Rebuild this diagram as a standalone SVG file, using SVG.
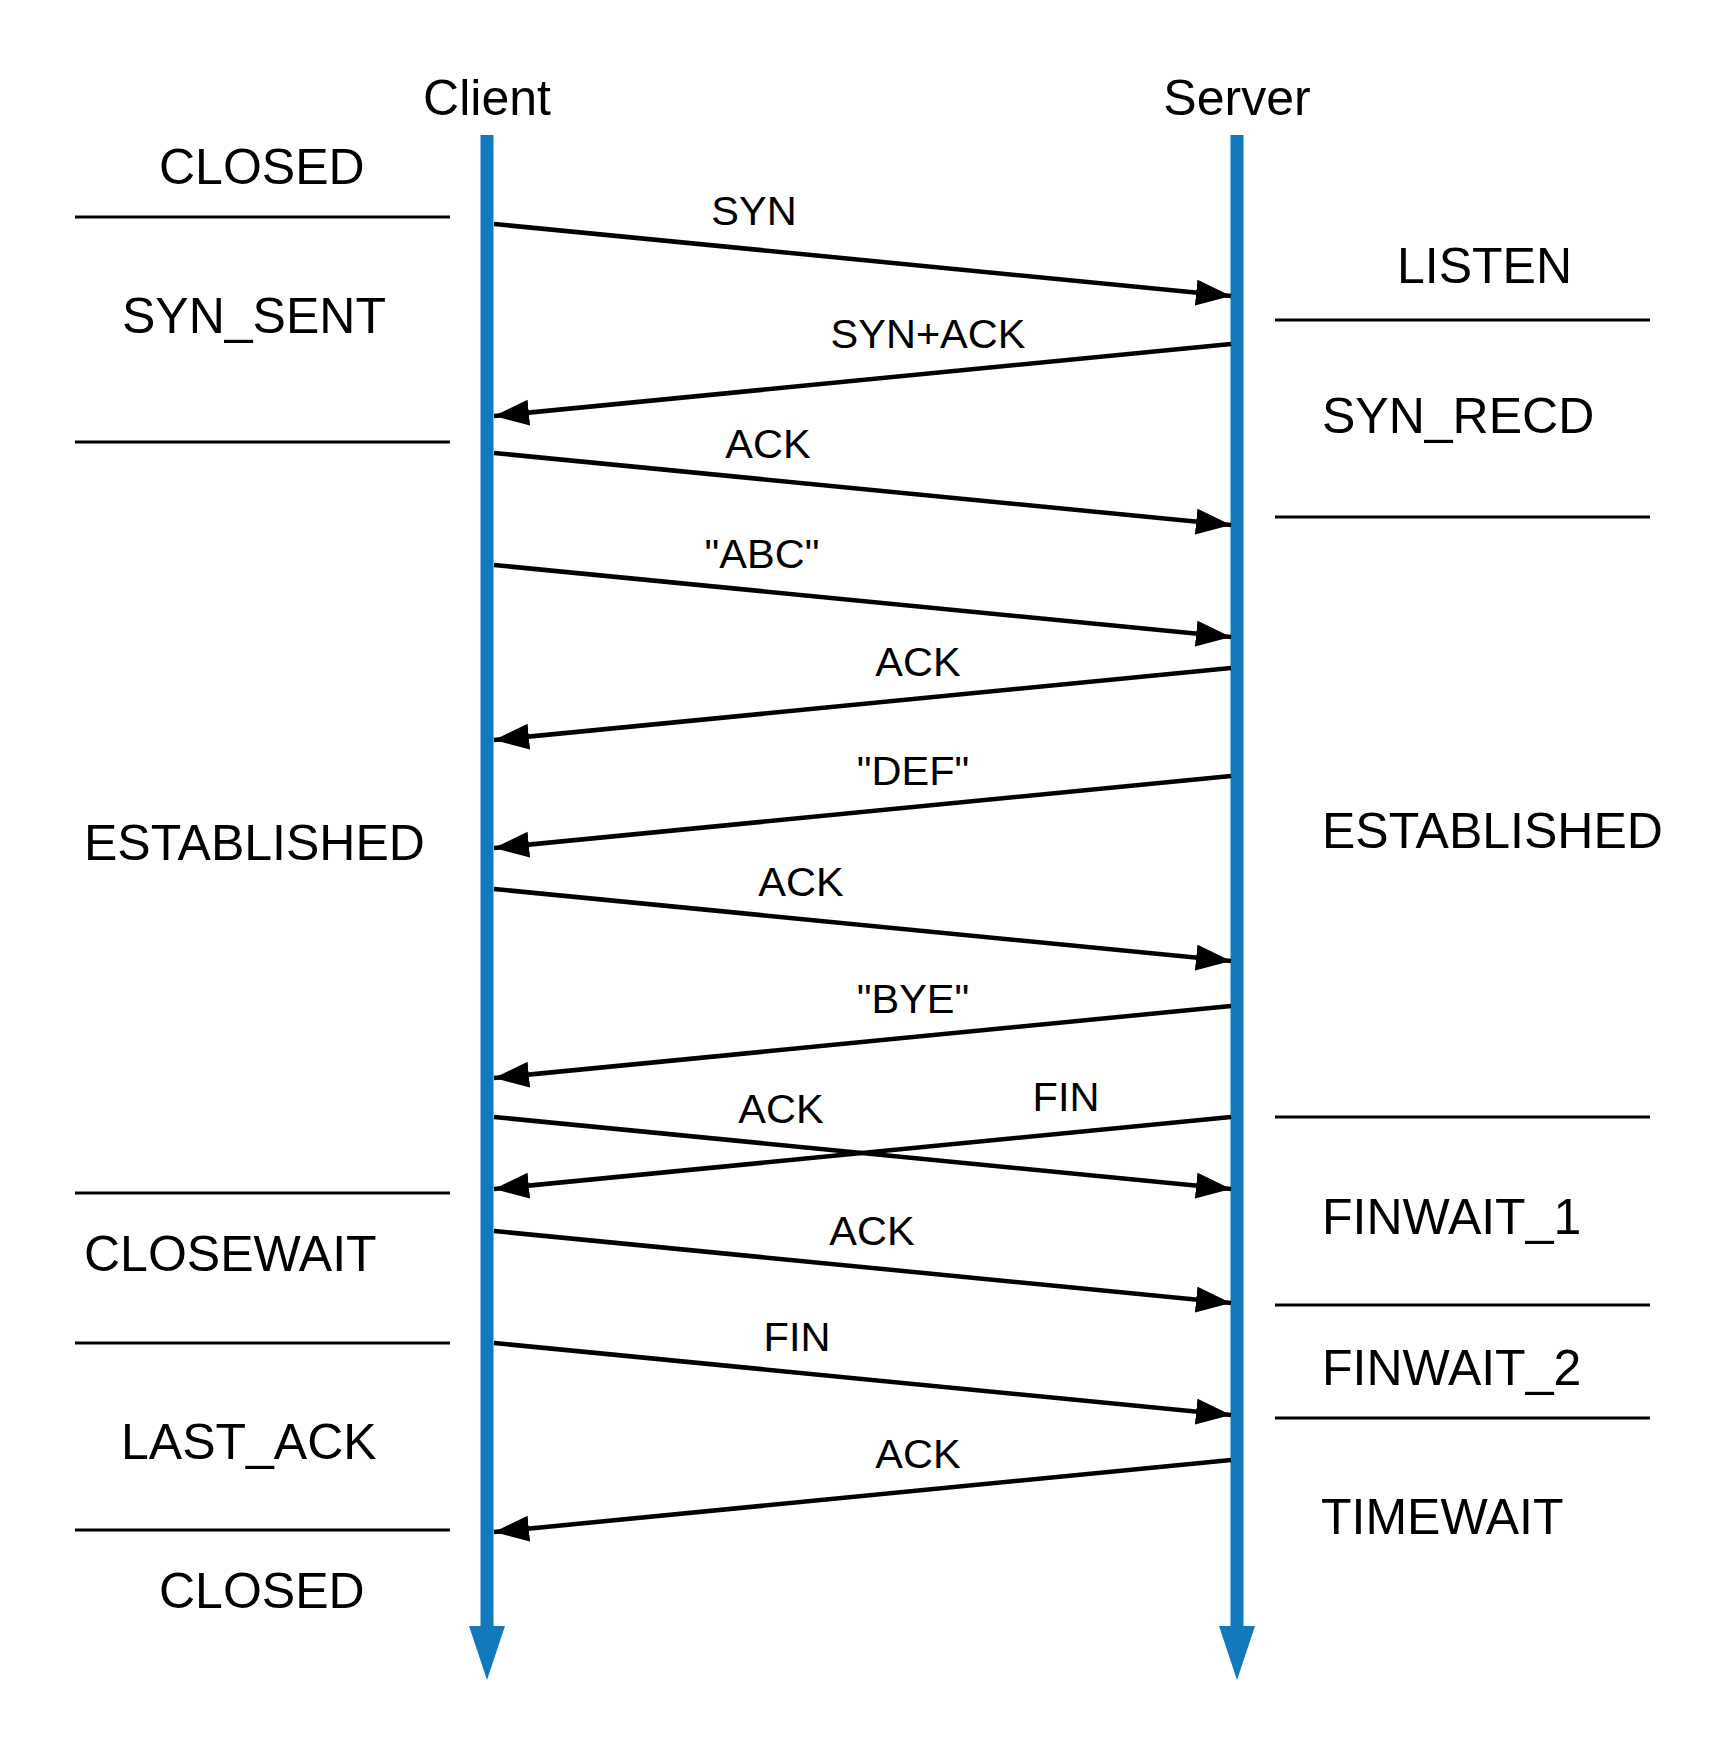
<svg xmlns="http://www.w3.org/2000/svg" width="1725" height="1755" viewBox="0 0 1725 1755">
<style>
text{font-family:"Liberation Sans",Arial,sans-serif;fill:#000}
.h{font-size:50px;text-anchor:middle}
.st{font-size:50px}
.lb{font-size:41.5px;text-anchor:middle}
.sep{stroke:#000;stroke-width:3}
.life{stroke:#117abd;stroke-width:13}
.msg{stroke:#000;stroke-width:4.5;fill:none;marker-end:url(#ah)}
</style>
<defs>
<marker id="ah" markerUnits="userSpaceOnUse" markerWidth="36" markerHeight="28" refX="35" refY="13" orient="auto"><path d="M0,0 L35,13 L0,26 z" fill="#000"/></marker>
</defs>
<rect width="1725" height="1755" fill="#fff"/>
<g id="client">
<text class="h" x="487" y="115">Client</text>
<line class="life" x1="487" y1="135" x2="487" y2="1627"/>
<polygon points="469,1626 505,1626 487,1680" fill="#117abd"/>
</g>
<g id="server">
<text class="h" x="1237" y="115">Server</text>
<line class="life" x1="1237" y1="135" x2="1237" y2="1627"/>
<polygon points="1219,1626 1255,1626 1237,1680" fill="#117abd"/>
</g>
<g id="client-states">
<text class="st" x="159" y="184">CLOSED</text>
<line class="sep" x1="75" y1="217" x2="450" y2="217"/>
<text class="st" x="122" y="333">SYN_SENT</text>
<line class="sep" x1="75" y1="442" x2="450" y2="442"/>
<text class="st" x="84" y="860">ESTABLISHED</text>
<line class="sep" x1="75" y1="1193" x2="450" y2="1193"/>
<text class="st" x="84" y="1271">CLOSEWAIT</text>
<line class="sep" x1="75" y1="1343" x2="450" y2="1343"/>
<text class="st" x="121" y="1459">LAST_ACK</text>
<line class="sep" x1="75" y1="1530" x2="450" y2="1530"/>
<text class="st" x="159" y="1608">CLOSED</text>
</g>
<g id="server-states">
<text class="st" x="1397" y="283">LISTEN</text>
<line class="sep" x1="1275" y1="320" x2="1650" y2="320"/>
<text class="st" x="1322" y="433">SYN_RECD</text>
<line class="sep" x1="1275" y1="517" x2="1650" y2="517"/>
<text class="st" x="1322" y="848">ESTABLISHED</text>
<line class="sep" x1="1275" y1="1117" x2="1650" y2="1117"/>
<text class="st" x="1322" y="1234">FINWAIT_1</text>
<line class="sep" x1="1275" y1="1305" x2="1650" y2="1305"/>
<text class="st" x="1322" y="1385">FINWAIT_2</text>
<line class="sep" x1="1275" y1="1418" x2="1650" y2="1418"/>
<text class="st" x="1321" y="1534">TIMEWAIT</text>
</g>
<g id="connectors">
<line class="msg" x1="494" y1="224" x2="1231" y2="296"/>
<line class="msg" x1="1231" y1="344" x2="494" y2="416"/>
<line class="msg" x1="494" y1="453" x2="1231" y2="525"/>
<line class="msg" x1="494" y1="565" x2="1231" y2="637"/>
<line class="msg" x1="1231" y1="668" x2="494" y2="740"/>
<line class="msg" x1="1231" y1="776" x2="494" y2="848"/>
<line class="msg" x1="494" y1="889" x2="1231" y2="961"/>
<line class="msg" x1="1231" y1="1006" x2="494" y2="1078"/>
<line class="msg" x1="494" y1="1117" x2="1231" y2="1189"/>
<line class="msg" x1="1231" y1="1117" x2="494" y2="1189"/>
<line class="msg" x1="494" y1="1231" x2="1231" y2="1303"/>
<line class="msg" x1="494" y1="1343" x2="1231" y2="1415"/>
<line class="msg" x1="1231" y1="1460" x2="494" y2="1532"/>
</g>
<g id="labels">
<text class="lb" x="754" y="225">SYN</text>
<text class="lb" x="928" y="348">SYN+ACK</text>
<text class="lb" x="768" y="458">ACK</text>
<text class="lb" x="762" y="568">"ABC"</text>
<text class="lb" x="918" y="676">ACK</text>
<text class="lb" x="913" y="785">"DEF"</text>
<text class="lb" x="801" y="896">ACK</text>
<text class="lb" x="913" y="1013">"BYE"</text>
<text class="lb" x="781" y="1123">ACK</text>
<text class="lb" x="1066" y="1111">FIN</text>
<text class="lb" x="872" y="1245">ACK</text>
<text class="lb" x="797" y="1351">FIN</text>
<text class="lb" x="918" y="1468">ACK</text>
</g>
</svg>
